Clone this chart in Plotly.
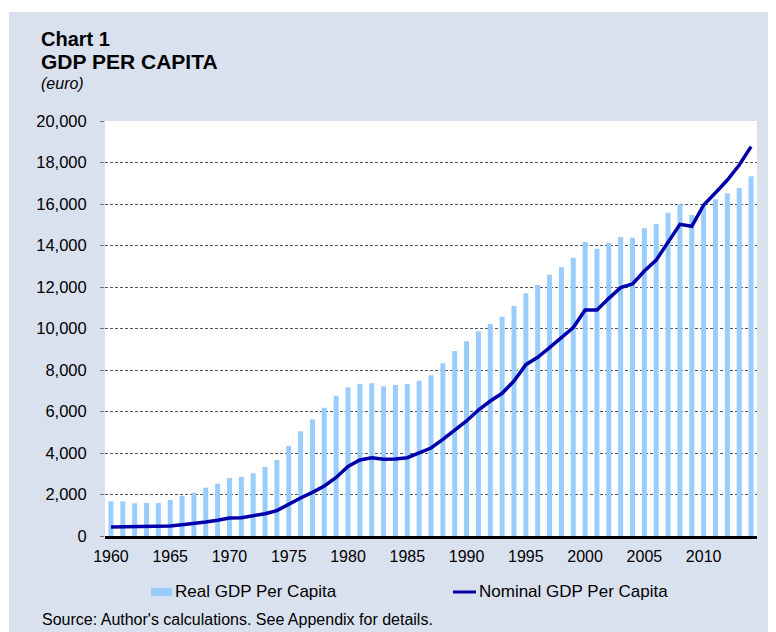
import plotly.graph_objects as go

# data (euro)
years = list(range(1960, 2015))
real_gdp = [1672, 1670, 1575, 1590, 1590, 1735, 1944, 2088, 2329, 2522,
            2795, 2860, 3020, 3325, 3663, 4337, 5044, 5622, 6185, 6763,
            7170, 7342, 7357, 7213, 7277, 7325, 7486, 7743, 8322, 8916,
            9382, 9864, 10217, 10570, 11084, 11695, 12096, 12594, 12950, 13413,
            14169, 13847, 14137, 14410, 14378, 14827, 15036, 15582, 15984, 15470,
            15904, 16225, 16514, 16771, 17335]
nominal_gdp = [434, 440, 430, 430, 434, 482, 546, 594, 675, 755,
               867, 884, 964, 1076, 1221, 1542, 1831, 2104, 2410, 2820,
               3350, 3663, 3775, 3695, 3711, 3775, 4000, 4241, 4659, 5108,
               5542, 6072, 6506, 6876, 7470, 8257, 8610, 9076, 9542, 10050,
               10892, 10892, 11454, 11968, 12145, 12771, 13301, 14185, 15020, 14924,
               15952, 16546, 17157, 17880, 18763]
x_ticks = list(range(1960, 2015, 5))

FONT = 'Arial, Liberation Sans, sans-serif'
PANEL = '#DAE1EE'
BAR_COLOR = '#99CCFF'
LINE_COLOR = '#0000AA'

fig = go.Figure()
fig.add_trace(go.Bar(
    x=years, y=real_gdp, name='Real GDP Per Capita',
    marker=dict(color=BAR_COLOR, line=dict(width=0)),
    width=0.42, showlegend=False
))
fig.add_trace(go.Scatter(
    x=years, y=nominal_gdp, name='Nominal GDP Per Capita',
    mode='lines', line=dict(color=LINE_COLOR, width=3.5),
    showlegend=False
))

fig.update_layout(
    width=776, height=632,
    margin=dict(l=97, r=27, t=113, b=104),
    paper_bgcolor=PANEL,
    plot_bgcolor='white',
    font=dict(family=FONT, size=16, color='black'),
    xaxis=dict(
        range=[1959.5, 2014.5],
        tickmode='array', tickvals=x_ticks,
        showgrid=False, zeroline=False,
        showline=True, linecolor='black', linewidth=3,
        ticks='', ticklabelstandoff=4,
        tickfont=dict(size=16)
    ),
    yaxis=dict(
        range=[0, 20000], dtick=2000, tickformat=',',
        showgrid=True, gridcolor='#555555', gridwidth=1, griddash='3px,2px',
        zeroline=False, showline=False,
        ticks='outside', ticklen=4, tickcolor='#777777',
        ticklabelstandoff=10,
        tickfont=dict(size=16.5)
    ),
)

# white frame around the grey panel (top and left)
fig.add_shape(type='rect', xref='paper', yref='paper',
              x0=-0.2, x1=1.1, y0=1.2627, y1=1.35,
              fillcolor='white', line_width=0)
fig.add_shape(type='rect', xref='paper', yref='paper',
              x0=-0.2, x1=-0.1472, y0=-0.3, y1=1.35,
              fillcolor='white', line_width=0)

# titles
fig.add_annotation(text='<b>Chart 1</b>', xref='paper', yref='paper',
                   x=-0.1012, y=1.198, xanchor='left', yanchor='middle',
                   showarrow=False, font=dict(size=20))
fig.add_annotation(text='<b>GDP PER CAPITA</b>', xref='paper', yref='paper',
                   x=-0.1012, y=1.143, xanchor='left', yanchor='middle',
                   showarrow=False, font=dict(size=21))
fig.add_annotation(text='<i>(euro)</i>', xref='paper', yref='paper',
                   x=-0.1012, y=1.090, xanchor='left', yanchor='middle',
                   showarrow=False, font=dict(size=16))

# legend drawn by hand to match the original layout
fig.add_shape(type='rect', xref='paper', yref='paper',
              x0=0.0706, x1=0.1028, y0=-0.1446, y1=-0.1253,
              fillcolor=BAR_COLOR, line_width=0)
fig.add_annotation(text='Real GDP Per Capita', xref='paper', yref='paper',
                   x=0.1043, y=-0.1349, xanchor='left', yanchor='middle',
                   showarrow=False, font=dict(size=17))
fig.add_shape(type='line', xref='paper', yref='paper',
              x0=0.5337, x1=0.5690, y0=-0.1349, y1=-0.1349,
              line=dict(color=LINE_COLOR, width=3))
fig.add_annotation(text='Nominal GDP Per Capita', xref='paper', yref='paper',
                   x=0.5706, y=-0.1349, xanchor='left', yanchor='middle',
                   showarrow=False, font=dict(size=17))

# source note
fig.add_annotation(text="Source: Author's calculations. See Appendix for details.",
                   xref='paper', yref='paper', x=-0.0997, y=-0.2024,
                   xanchor='left', yanchor='middle', showarrow=False,
                   font=dict(size=16))

fig.write_html("out.html")
